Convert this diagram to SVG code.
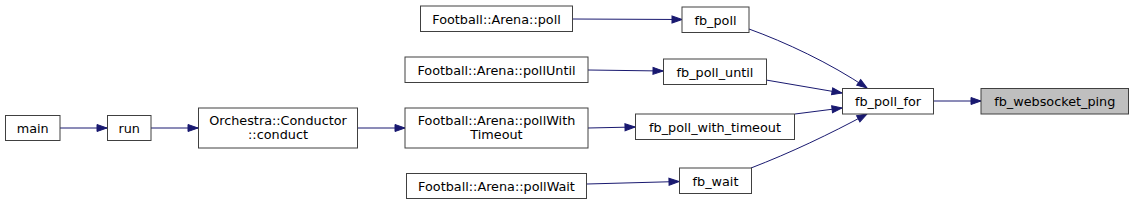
<svg xmlns="http://www.w3.org/2000/svg" width="1133" height="205" viewBox="0 0 1133 205">
<style>
.n rect{fill:#ffffff;stroke:#404040;stroke-width:1}
.n.h rect{fill:#bfbfbf}
.n text{font-family:"DejaVu Sans",sans-serif;font-size:12.8px;fill:#000;text-anchor:middle}
.e path{fill:none;stroke:#191970;stroke-width:1;marker-end:url(#arr)}
</style>
<defs>
<marker id="arr" markerUnits="userSpaceOnUse" markerWidth="12" markerHeight="10" refX="11" refY="4.5" orient="auto" viewBox="0 0 12 10">
<path d="M1,1 L11,4.5 L1,8 z" fill="#191970" stroke="#191970" stroke-width="1"/>
</marker>
</defs>
<rect width="1133" height="205" fill="#ffffff"/>
<g id="edges" class="e">
<path d="M60,128 L107,128"/>
<path d="M151,128 L198,128"/>
<path d="M357,128 L405,128"/>
<path d="M572.5,19 L682,19.5"/>
<path d="M588,70 L663,71"/>
<path d="M588,128 L635,127"/>
<path d="M587,184 L679,181.5"/>
<path d="M749,29 C785,42 830,63 867,88"/>
<path d="M766,80 L842,93"/>
<path d="M795,114 L842,108"/>
<path d="M751,168 C790,153 830,134 867,114"/>
<path d="M933,101 L981,101"/>
</g>
<g id="main" class="n"><rect x="5.5" y="115.5" width="54.5" height="25"/><text x="32.75" y="132.5">main</text></g>
<g id="run" class="n"><rect x="107.5" y="115.5" width="43.5" height="25"/><text x="129.25" y="132.5">run</text></g>
<g id="conduct" class="n"><rect x="198.5" y="108" width="159" height="40"/><text x="278" y="124.5">Orchestra::Conductor</text><text x="278" y="138.5">::conduct</text></g>
<g id="poll" class="n"><rect x="420.5" y="6" width="152" height="25.5"/><text x="496.5" y="23.5">Football::Arena::poll</text></g>
<g id="pollUntil" class="n"><rect x="405" y="57" width="183" height="25.5"/><text x="496.5" y="74.5">Football::Arena::pollUntil</text></g>
<g id="pollWithTimeout" class="n"><rect x="405" y="108" width="183" height="40"/><text x="496.5" y="124.5">Football::Arena::pollWith</text><text x="496.5" y="138.5">Timeout</text></g>
<g id="pollWait" class="n"><rect x="406.5" y="173.5" width="180" height="25"/><text x="496.5" y="190.5">Football::Arena::pollWait</text></g>
<g id="fb_poll" class="n"><rect x="682" y="7" width="67" height="25.5"/><text x="715.5" y="24.5">fb_poll</text></g>
<g id="fb_poll_until" class="n"><rect x="663.5" y="59" width="103" height="25.5"/><text x="715" y="76.5">fb_poll_until</text></g>
<g id="fb_poll_with_timeout" class="n"><rect x="635.5" y="114" width="159" height="25.5"/><text x="715" y="131.5">fb_poll_with_timeout</text></g>
<g id="fb_wait" class="n"><rect x="679.5" y="168" width="72" height="25.5"/><text x="715.5" y="185.5">fb_wait</text></g>
<g id="fb_poll_for" class="n"><rect x="842.5" y="88.5" width="91" height="25.5"/><text x="888" y="106">fb_poll_for</text></g>
<g id="fb_websocket_ping" class="n h"><rect x="981" y="88.5" width="147.5" height="25.5"/><text x="1054.75" y="106">fb_websocket_ping</text></g>
</svg>
